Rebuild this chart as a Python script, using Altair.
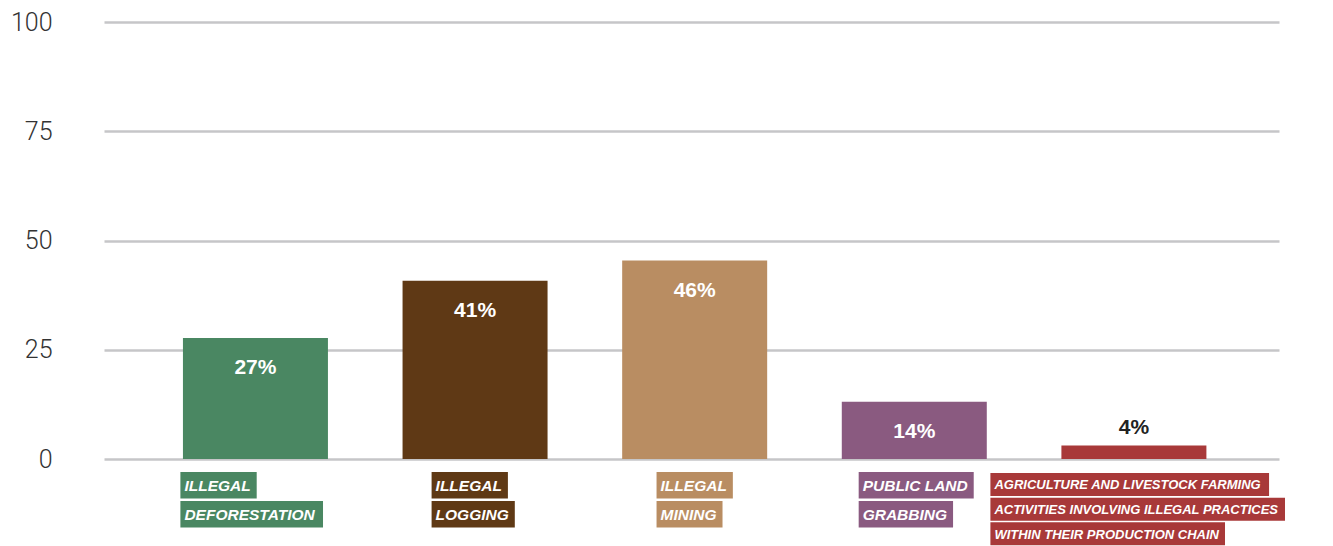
import altair as alt
import pandas as pd

# ---------------- data ----------------
categories = [
    "Illegal deforestation",
    "Illegal logging",
    "Illegal mining",
    "Public land grabbing",
    "Agriculture and livestock farming with illegal practices",
]
values = [27.7, 40.8, 45.4, 13.1, 3.1]
value_labels = ["27%", "41%", "46%", "14%", "4%"]
label_lines = [
    ["ILLEGAL", "DEFORESTATION"],
    ["ILLEGAL", "LOGGING"],
    ["ILLEGAL", "MINING"],
    ["PUBLIC LAND", "GRABBING"],
    ["AGRICULTURE AND LIVESTOCK FARMING",
     "ACTIVITIES INVOLVING ILLEGAL PRACTICES",
     "WITHIN THEIR PRODUCTION CHAIN"],
]
colors = ["#4a8762", "#5f3915", "#b98d62", "#8a5a80", "#a83939"]
y_ticks = [0, 25, 50, 75, 100]

# ---------------- layout / style ----------------
PLOT_W = 1175
PLOT_H = 437
STEP_PX = 221.5          # distance between bar centres
FIRST_CENTER_PX = 147.7  # first bar centre from the plot's left edge
BAR_W = 145
X_DOMAIN = [-FIRST_CENTER_PX / STEP_PX, (PLOT_W - FIRST_CENTER_PX) / STEP_PX]

FONT = "Liberation Sans"
# Helvetica/Arial Bold advance widths (per 1000 em) - Liberation Sans is metric compatible
HB = {"A": 722, "B": 722, "C": 722, "D": 722, "E": 667, "F": 611, "G": 778, "H": 722,
      "I": 278, "J": 556, "K": 722, "L": 611, "M": 833, "N": 722, "O": 778, "P": 667,
      "Q": 778, "R": 722, "S": 667, "T": 611, "U": 722, "V": 667, "W": 944, "X": 667,
      "Y": 667, "Z": 611, " ": 278}
PAD_L, PAD_R = 4, 6


def text_w(s, fs):
    return sum(HB.get(c, 600) for c in s) * fs / 1000.0


idx = list(range(len(categories)))
bars = pd.DataFrame({"cat": categories, "idx": idx, "value": values, "label": value_labels})

rows = []
for i, (cat, lines) in enumerate(zip(categories, label_lines)):
    fs = 15.5 if len(lines) <= 2 else 13
    widths = [text_w(s, fs) + PAD_L + PAD_R for s in lines]
    block = max(widths)
    left = i - (block / 2) / STEP_PX
    for j, (s, w) in enumerate(zip(lines, widths)):
        rows.append({"cat": cat, "line": j, "text": s, "x": left, "x2": left + w / STEP_PX,
                     "group": "two" if len(lines) <= 2 else "three", "fs": fs})
labels = pd.DataFrame(rows)

color_scale = alt.Scale(domain=categories, range=colors)
x_scale = alt.Scale(domain=X_DOMAIN, nice=False, zero=False)
x_enc = alt.X("idx:Q", scale=x_scale, axis=None)

# ---------------- top: bar chart ----------------
y_enc = alt.Y(
    "value:Q",
    scale=alt.Scale(domain=[0, 100], nice=False),
    axis=alt.Axis(values=y_ticks, grid=True, gridColor="#c6c6c8", gridWidth=2.5,
                  domain=False, ticks=False, title=None, labelFont="Roboto",
                  labelFontWeight=300, labelFontSize=25, labelColor="#333333",
                  labelPadding=52),
)

base = alt.Chart(bars)
bar_layer = base.mark_bar(width=BAR_W).encode(
    x=x_enc, y=y_enc,
    color=alt.Color("cat:N", scale=color_scale, legend=None),
)
inside = base.transform_filter("datum.value >= 10").mark_text(
    font=FONT, fontWeight="bold", fontSize=21, color="white", baseline="middle", dy=30
).encode(x=x_enc, y="value:Q", text="label:N")
above = base.transform_filter("datum.value < 10").mark_text(
    font=FONT, fontWeight="bold", fontSize=21, color="#222222", baseline="middle", dy=-17
).encode(x=x_enc, y="value:Q", text="label:N")

top = alt.layer(bar_layer, inside, above).properties(width=PLOT_W, height=PLOT_H)

# ---------------- bottom: coloured category labels ----------------
def label_layer(group, y_scale):
    src = alt.Chart(labels).transform_filter(f"datum.group == '{group}'")
    y = alt.Y("line:O", scale=y_scale, axis=None)
    rect = src.mark_rect().encode(
        x=alt.X("x:Q", scale=x_scale, axis=None),
        x2="x2:Q",
        y=y,
        color=alt.Color("cat:N", scale=color_scale, legend=None),
    )
    txt = src.mark_text(
        font=FONT, fontWeight="bold", fontStyle="italic", color="white",
        align="left", baseline="middle", dx=PAD_L, dy=1,
    ).encode(
        x=alt.X("x:Q", scale=x_scale, axis=None),
        y=y,
        text="text:N",
        size=alt.Size("fs:Q", scale=None, legend=None),
    )
    return alt.layer(rect, txt)


two = label_layer("two", alt.Scale(domain=[0, 1], range=[0, 55.5], paddingInner=0.086, paddingOuter=0))
three = label_layer("three", alt.Scale(domain=[0, 1, 2], range=[1, 73.3], paddingInner=0.067, paddingOuter=0))

bottom = alt.layer(two, three).resolve_scale(y="independent").properties(width=PLOT_W, height=74)

chart = alt.vconcat(top, bottom, spacing=0).properties(
    padding={"left": 2, "top": 2, "right": 0, "bottom": 0}
).configure(background="white").configure_view(stroke=None)

chart.save("out.html", embed_options={"renderer": "svg", "actions": False})
